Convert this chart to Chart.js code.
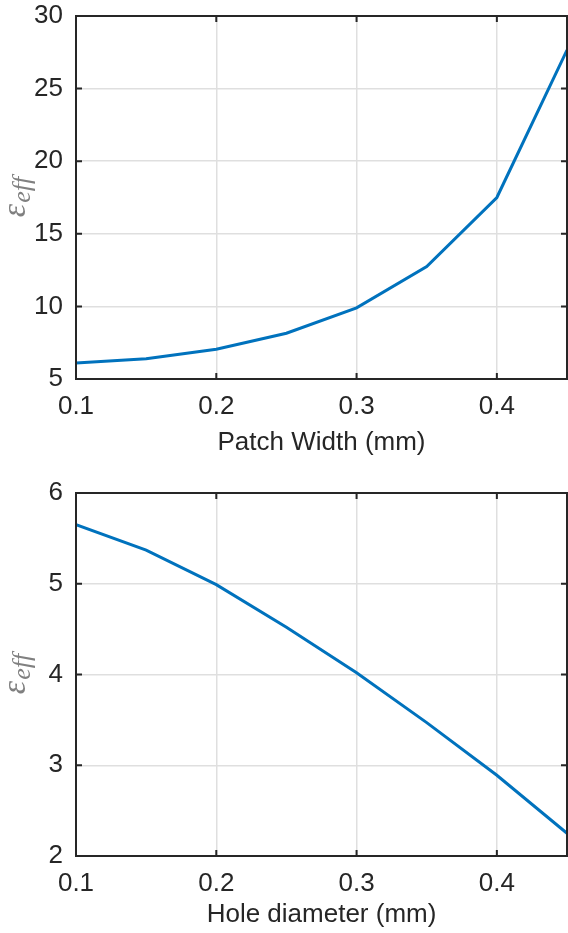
<!DOCTYPE html>
<html>
<head>
<meta charset="utf-8">
<script src="https://cdn.jsdelivr.net/npm/chart.js@4.4.0/dist/chart.umd.min.js"></script>
<style>
  html, body { margin: 0; padding: 0; background: #fff; }
  canvas { display: block; }
</style>
</head>
<body>
<canvas id="widthChart" width="568" height="466"></canvas>
<canvas id="holeChart" width="568" height="467"></canvas>
<script>
// values
const xValues = [0.1, 0.15, 0.2, 0.25, 0.3, 0.35, 0.4, 0.45]
const epsVsWidth = [6.1, 6.4, 7.05, 8.15, 9.9, 12.75, 17.5, 27.65]
const epsVsHole = [5.65, 5.37, 4.99, 4.52, 4.02, 3.47, 2.89, 2.25]
const xTicks = [0.1, 0.2, 0.3, 0.4]
const widthYTicks = [5, 10, 15, 20, 25, 30]
const holeYTicks = [2, 3, 4, 5, 6]

const axisColor = "#262626"
const sansFont = "'Liberation Sans', Arial, sans-serif"

// matlab style box, inward ticks and the epsilon_eff label
const boxPlugin = {
  id: "matlabBox",
  afterDraw(chart) {
    const { ctx, chartArea: a, scales } = chart
    ctx.save()
    ctx.strokeStyle = axisColor
    ctx.lineWidth = 2
    ctx.beginPath()
    scales.x.ticks.forEach(t => {
      const px = scales.x.getPixelForValue(t.value)
      ctx.moveTo(px, a.bottom); ctx.lineTo(px, a.bottom - 6)
      ctx.moveTo(px, a.top); ctx.lineTo(px, a.top + 6)
    })
    scales.y.ticks.forEach(t => {
      const py = scales.y.getPixelForValue(t.value)
      ctx.moveTo(a.left, py); ctx.lineTo(a.left + 6, py)
      ctx.moveTo(a.right, py); ctx.lineTo(a.right - 6, py)
    })
    ctx.stroke()
    ctx.strokeRect(a.left, a.top, a.right - a.left, a.bottom - a.top)

    // y label: ε with subscript eff
    ctx.translate(25, (a.top + a.bottom) / 2)
    ctx.rotate(-Math.PI / 2)
    ctx.fillStyle = "#808080"
    ctx.textBaseline = "alphabetic"
    const bigFont = "italic 34px 'Liberation Serif', 'DejaVu Serif', serif"
    const subFont = "italic 26px 'Liberation Serif', 'DejaVu Serif', serif"
    ctx.font = bigFont
    const w1 = ctx.measureText("ε").width
    ctx.font = subFont
    const w2 = ctx.measureText("eff").width
    const start = -(w1 + w2) / 2
    ctx.font = bigFont
    ctx.fillText("ε", start, 0)
    ctx.font = subFont
    ctx.fillText("eff", start + w1 + 1, 5)
    ctx.restore()
  }
}

function makeChart(id, yValues, yTicks, xLabel, padTop, xAxisHeight, titlePad) {
  const ctx = document.getElementById(id).getContext("2d")
  return new Chart(ctx, {
    type: "line",
    data: {
      datasets: [{
        data: xValues.map((x, i) => ({ x: x, y: yValues[i] })),
        borderColor: "#0072BD",
        borderWidth: 3,
        pointRadius: 0,
        tension: 0,
        fill: false,
      }],
    },
    options: {
      responsive: false,
      animation: false,
      layout: { padding: { top: padTop, right: 1, left: 0, bottom: 0 } },
      plugins: { legend: { display: false }, tooltip: { enabled: false } },
      scales: {
        x: {
          type: "linear",
          min: 0.1,
          max: 0.45,
          afterBuildTicks: s => { s.ticks = xTicks.map(v => ({ value: v })) },
          afterFit: s => {
            s.height = xAxisHeight
            s.paddingLeft = 0
            s.paddingRight = 0
          },
          grid: { color: "#dfdfdf", lineWidth: 1.5, drawTicks: false },
          border: { display: false },
          ticks: {
            padding: 12,
            maxRotation: 0,
            autoSkip: false,
            color: axisColor,
            font: { family: sansFont, size: 26 },
          },
          title: {
            display: true,
            text: xLabel,
            color: axisColor,
            font: { family: sansFont, size: 26 },
            padding: { top: 0, bottom: titlePad },
          },
        },
        y: {
          min: yTicks[0],
          max: yTicks[yTicks.length - 1],
          afterBuildTicks: s => { s.ticks = yTicks.map(v => ({ value: v })) },
          afterFit: s => {
            s.width = 76
            s.paddingTop = 0
            s.paddingBottom = 0
          },
          grid: { color: "#dfdfdf", lineWidth: 1.5, drawTicks: false },
          border: { display: false },
          ticks: {
            padding: 13,
            color: axisColor,
            font: { family: sansFont, size: 26 },
          },
        },
      },
    },
    plugins: [boxPlugin],
  })
}

makeChart("widthChart", epsVsWidth, widthYTicks, "Patch Width (mm)", 16, 87, 8)
makeChart("holeChart", epsVsHole, holeYTicks, "Hole diameter (mm)", 27, 77, 3)
</script>
</body>
</html>
